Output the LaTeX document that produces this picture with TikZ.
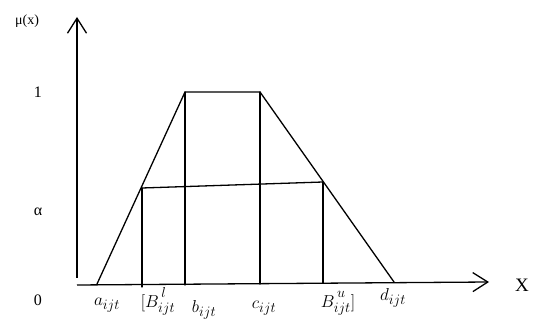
\documentclass[tikz,border=0pt]{standalone}
\usepackage{fontspec}
\setmainfont{Liberation Serif}
\DeclareMathSizes{17}{17}{13.5}{10}
\usetikzlibrary{arrows.meta}
\begin{document}
\begin{tikzpicture}[x=1pt,y=-1pt,
  ln/.style={line width=1.3pt, line cap=round, line join=round},
  axis/.style={line width=1.3pt, -{Straight Barb[length=15pt,width=19pt,line width=1.3pt]}},
  lbl/.style={inner sep=0pt, font=\fontsize{16}{18}\selectfont},
  sub/.style={inner sep=0pt, font=\fontsize{17}{19}\selectfont}]
\useasboundingbox (0,0) rectangle (536,331);
% axes
\coordinate (o) at (77,285);
\coordinate (ytop) at (77,17);
\coordinate (xend) at (489,282);
\draw[axis] (77,278) -- (ytop);
\draw[axis] (o) -- (xend);
% trapezoid points
\coordinate (a) at (97,284);
\coordinate (b) at (185,92);
\coordinate (c) at (260,92);
\coordinate (d) at (394,282);
\coordinate (al) at (142,188);
\coordinate (ar) at (323,182);
\coordinate (alb) at (142,287);
\coordinate (bb) at (185,285);
\coordinate (cb) at (260,284);
\coordinate (arb) at (323,283);
\draw[ln] (a) -- (b) -- (c) -- (d);
\draw[ln] (al) -- (ar);
\draw[ln] (al) -- (alb);
\draw[ln] (b) -- (bb);
\draw[ln] (c) -- (cb);
\draw[ln] (ar) -- (arb);
% labels
\node[lbl, font=\fontsize{14}{16}\selectfont] (mu) at (27,21) {μ(x)};
\node[lbl] (one) at (38,92) {1};
\node[lbl] (alpha) at (38,212) {α};
\node[lbl] (zero) at (38,300) {0};
\node[lbl, font=\fontsize{19}{21}\selectfont] (X) at (522,285) {X};
\node[sub] (la) at (107,305) {$a_{ijt}$};
\node[sub] (lBl) at (158,301) {$[B^{\,l\vphantom{(}}_{ijt}$};
\node[sub] (lb) at (204,310) {$b_{ijt}$};
\node[sub] (lc) at (264,308) {$c_{ijt}$};
\node[sub] (lBu) at (338,301) {$B^{\,u\vphantom{(}}_{ijt}]$};
\node[sub] (ld) at (393,298) {$d_{ijt}$};
\end{tikzpicture}
\end{document}
